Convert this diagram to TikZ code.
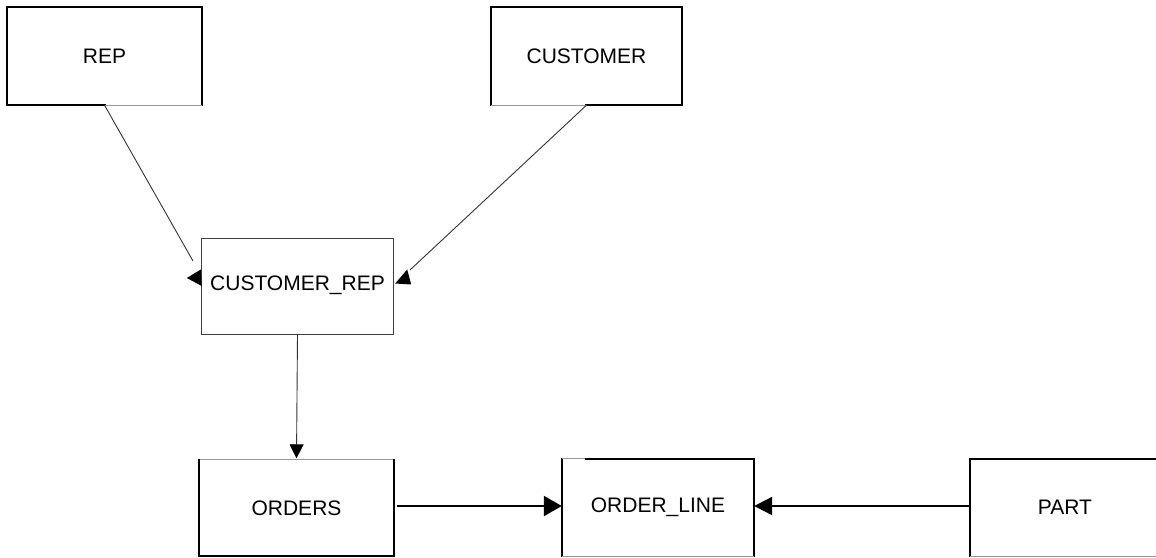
\documentclass[tikz,border=0pt]{standalone}
\usepackage{fontspec}
\setmainfont{Liberation Sans}
\usetikzlibrary{arrows.meta}
\begin{document}
\begin{tikzpicture}[x=1pt,y=-1pt,
  ent/.style={draw=none, inner sep=0pt, font=\fontsize{21}{25}\selectfont},
  thickb/.style={line width=2.4pt, black, line cap=rect, line join=miter},
  faint/.style={line width=0.8pt, black!40},
  thinb/.style={line width=1pt, black!75},
  conn/.style={line width=0.9pt, black!80},
  bold/.style={line width=2.2pt, black},
  head/.style={fill=black}
]
\useasboundingbox (0,0) rectangle (1156,557);

% entities
\node[ent, minimum width=195pt, minimum height=98pt] (rep) at (104.5,56) {REP};
\node[ent, minimum width=191pt, minimum height=98pt] (cust) at (586.5,56) {CUSTOMER};
\node[ent, minimum width=191pt, minimum height=95pt] (crep) at (297.5,286.5) {\raisebox{7.5pt}{CUSTOMER\_REP}};
\node[ent, minimum width=195pt, minimum height=96pt] (orders) at (296.5,508) {ORDERS};
\node[ent, minimum width=192pt, minimum height=97pt] (oline) at (658,507.5) {ORDER\_LINE};
\node[ent, minimum width=190pt, minimum height=97pt] (part) at (1065,507.5) {PART};

% borders
\draw[thickb] (rep.south) -- (rep.south west) -- (rep.north west) -- (rep.north east) -- (rep.south east);
\draw[faint] (rep.south) -- (rep.south east);

\draw[thickb] (cust.south) -- (cust.south east) -- (cust.north east) -- (cust.north west) -- (cust.south west);
\draw[faint] (cust.south west) -- (cust.south);

\draw[thinb] (crep.south west) rectangle (crep.north east);

\draw[faint] (orders.north west) -- (orders.north east);
\draw[thickb] (orders.north west) -- (orders.south west) -- (orders.south east) -- (orders.north east);

\draw[thickb] (oline.south west) -- (oline.north west);
\draw[faint] (oline.north west) -- ([shift={(24,0)}]oline.north west);
\draw[thickb] ([shift={(24,0)}]oline.north west) -- (oline.north east) -- (oline.south east);
\draw[faint] (oline.south west) -- (oline.south east);

\draw[thickb] (part.north east) -- (part.north west) -- (part.south west);
\draw[faint] (part.south west) -- (part.south east);

% connectors
\coordinate (e1) at (193,261);
\coordinate (e2) at (410,270);
\draw[conn] (rep.south) -- (e1);
\fill[head] ([shift={(-15,-8.5)}]crep.west) -- ([shift={(-1,-17)}]crep.west) -- ([shift={(0,-0.5)}]crep.west) -- cycle;
\draw[conn] (cust.south) -- (e2);
\fill[head] ([shift={(2,-3)}]crep.east) -- ([shift={(14,-17)}]crep.east) -- ([shift={(18,-2)}]crep.east) -- cycle;

\draw[conn, -{Triangle[length=14pt,width=14pt,color=black]}] (crep.south) -- ([shift={(0,-1.5)}]orders.north);
\draw[bold, -{Triangle[length=18pt,width=20pt]}] ([shift={(3,-2)}]orders.east) -- ([shift={(0,-1.5)}]oline.west);
\draw[bold, -{Triangle[length=18pt,width=18pt]}] ([shift={(0,-1.5)}]part.west) -- ([shift={(0,-1.5)}]oline.east);
\end{tikzpicture}
\end{document}
